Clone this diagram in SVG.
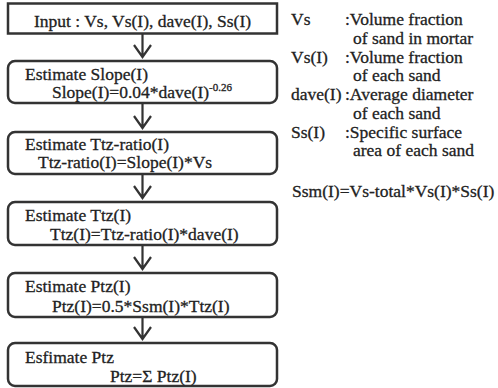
<svg xmlns="http://www.w3.org/2000/svg" width="498" height="388" viewBox="0 0 498 388">
<defs>
<style>
.box{fill:#fff;stroke:#333;stroke-width:2.5}
.t{font-family:"Liberation Serif","Times New Roman",serif;font-size:17.5px;fill:#222;stroke:#222;stroke-width:0.3}
.sup{font-size:11px}
.arr{fill:none;stroke:#333;stroke-width:2.2}
</style>
</defs>
<rect width="498" height="388" fill="#fff"/>
<g id="connectors">
<path class="arr" d="M142.5,34 V57 M134,45 L142.5,57 L151,45"/>
<path class="arr" d="M142.5,104 V128 M134,116 L142.5,128 L151,116"/>
<path class="arr" d="M142.5,174 V198 M134,186 L142.5,198 L151,186"/>
<path class="arr" d="M142.5,245 V269 M134,257 L142.5,269 L151,257"/>
<path class="arr" d="M142.5,317 V339 M134,327 L142.5,339 L151,327"/>
</g>
<g id="n1">
<rect class="box" x="8" y="3.5" width="269" height="30"/>
<text class="t" x="142.5" y="27" text-anchor="middle">Input : Vs, Vs(I), dave(I), Ss(I)</text>
</g>
<g id="n2">
<rect class="box" x="8" y="61" width="269" height="42" rx="7"/>
<text class="t" x="25" y="80">Estimate Slope(I)</text>
<text class="t" x="52" y="98">Slope(I)=0.04*dave(I)<tspan class="sup" dy="-7">-0.26</tspan></text>
</g>
<g id="n3">
<rect class="box" x="8" y="132" width="269" height="42" rx="7"/>
<text class="t" x="25" y="150">Estimate Ttz-ratio(I)</text>
<text class="t" x="38" y="168">Ttz-ratio(I)=Slope(I)*Vs</text>
</g>
<g id="n4">
<rect class="box" x="8" y="202" width="269" height="43" rx="7"/>
<text class="t" x="25" y="221">Estimate Ttz(I)</text>
<text class="t" x="50" y="240">Ttz(I)=Ttz-ratio(I)*dave(I)</text>
</g>
<g id="n5">
<rect class="box" x="8" y="273" width="269" height="44" rx="7"/>
<text class="t" x="25" y="292">Estimate Ptz(I)</text>
<text class="t" x="52" y="312">Ptz(I)=0.5*Ssm(I)*Ttz(I)</text>
</g>
<g id="n6">
<rect class="box" x="8" y="343" width="269" height="43" rx="7"/>
<text class="t" x="25" y="363">Esfimate Ptz</text>
<text class="t" x="110" y="382">Ptz=Σ Ptz(I)</text>
</g>
<g id="legend">
<text class="t" x="291" y="25">Vs</text>
<text class="t" x="345" y="25">:Volume fraction</text>
<text class="t" x="353" y="43.5">of sand in mortar</text>
<text class="t" x="291" y="62.5">Vs(I)</text>
<text class="t" x="345" y="62.5">:Volume fraction</text>
<text class="t" x="353" y="81">of each sand</text>
<text class="t" x="291" y="100">dave(I)</text>
<text class="t" x="345" y="100">:Average diameter</text>
<text class="t" x="353" y="118.5">of each sand</text>
<text class="t" x="291" y="137.5">Ss(I)</text>
<text class="t" x="345" y="137.5">:Specific surface</text>
<text class="t" x="353" y="156">area of each sand</text>
<text class="t" x="292" y="197">Ssm(I)=Vs-total*Vs(I)*Ss(I)</text>
</g>
</svg>
